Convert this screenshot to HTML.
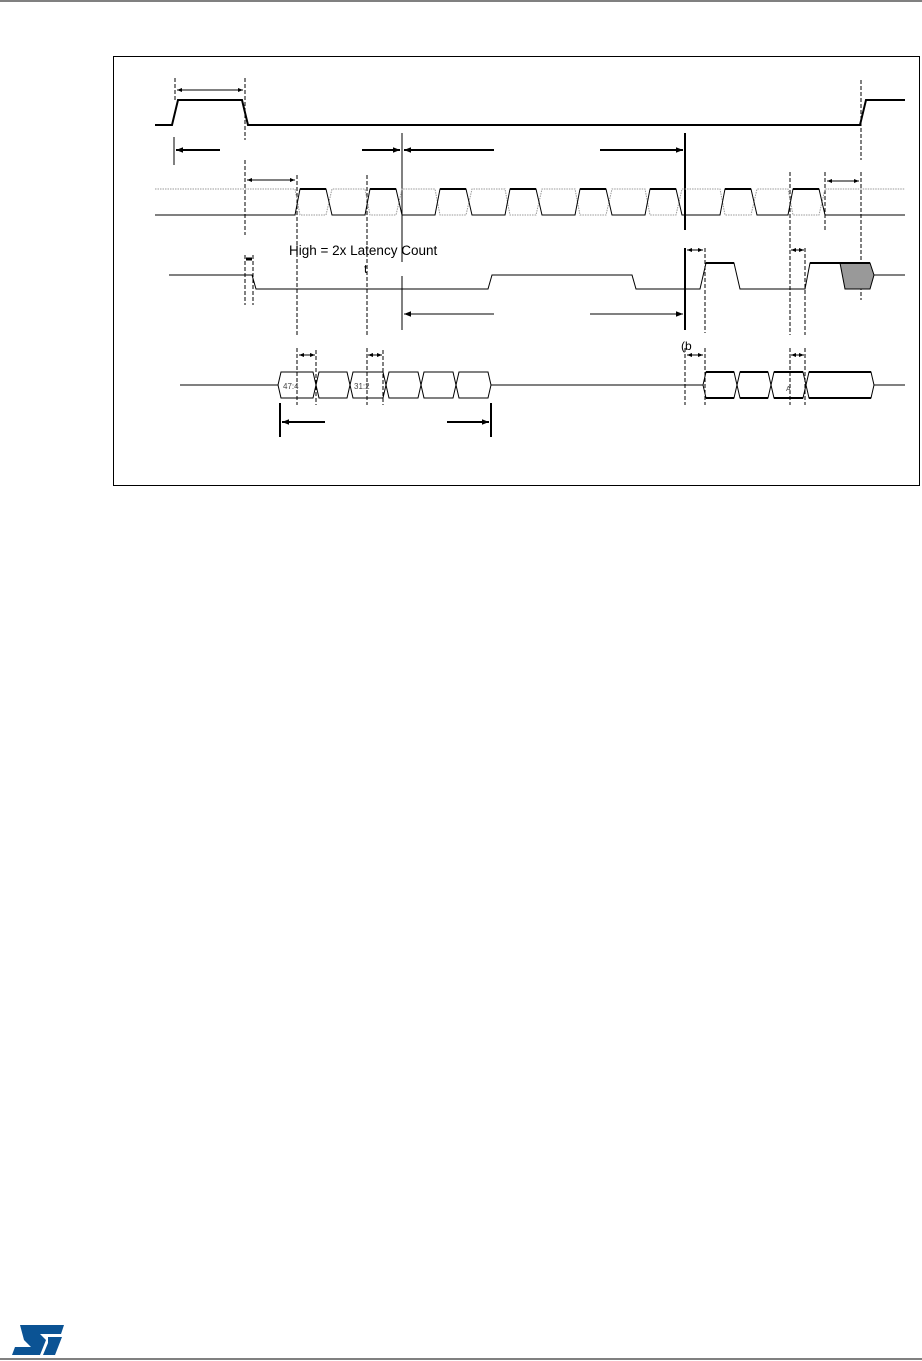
<!DOCTYPE html>
<html><head><style>html,body{margin:0;padding:0;background:#fff;width:922px;height:1361px;overflow:hidden}</style></head>
<body>
<svg width="922" height="1361" viewBox="0 0 922 1361" xmlns="http://www.w3.org/2000/svg" font-family="Liberation Sans, sans-serif">
<defs>
<marker id="a" viewBox="0 0 10 10" refX="10" refY="5" markerWidth="9" markerHeight="7" markerUnits="userSpaceOnUse" orient="auto-start-reverse"><path d="M0,1 L10,5 L0,9z" fill="#000"/></marker>
<marker id="s" viewBox="0 0 10 10" refX="10" refY="5" markerWidth="5" markerHeight="5" markerUnits="userSpaceOnUse" orient="auto-start-reverse"><path d="M0,1 L10,5 L0,9z" fill="#000"/></marker>
</defs>
<line x1="0" y1="1" x2="922" y2="1" stroke="#000" stroke-width="1"/>
<line x1="0" y1="1359" x2="922" y2="1359" stroke="#000" stroke-width="1"/>
<rect x="113.5" y="56.5" width="806" height="429" fill="none" stroke="#000" stroke-width="1"/>

<g stroke="#000" stroke-width="1" stroke-dasharray="4,2" fill="none">
<line x1="175" y1="78" x2="175" y2="100"/>
<line x1="245" y1="78" x2="245" y2="140"/>
<line x1="245" y1="160" x2="245" y2="235"/>
<line x1="245" y1="255" x2="245" y2="305"/>
<line x1="253" y1="255" x2="253" y2="305"/>
<line x1="297" y1="175" x2="297" y2="335"/>
<line x1="297" y1="348" x2="297" y2="405"/>
<line x1="316" y1="350" x2="316" y2="405"/>
<line x1="367" y1="175" x2="367" y2="335"/>
<line x1="367" y1="348" x2="367" y2="405"/>
<line x1="383" y1="350" x2="383" y2="405"/>
<line x1="790" y1="172" x2="790" y2="335"/>
<line x1="805" y1="248" x2="805" y2="335"/>
<line x1="790" y1="348" x2="790" y2="405"/>
<line x1="805" y1="348" x2="805" y2="405"/>
<line x1="825" y1="172" x2="825" y2="230"/>
<line x1="861" y1="80" x2="861" y2="160"/>
<line x1="861" y1="172" x2="861" y2="300"/>
<line x1="705" y1="248" x2="705" y2="333"/>
<line x1="705" y1="348" x2="705" y2="405"/>
<line x1="685" y1="348" x2="685" y2="405"/>
</g>

<polyline points="155,125 172,125 178,100 242,100 248,125 860,125 866,100 905,100" fill="none" stroke="#000" stroke-width="2"/>
<line x1="177" y1="90" x2="243" y2="90" stroke="#000" marker-start="url(#s)" marker-end="url(#s)"/>

<g stroke="#000" stroke-width="2">
<line x1="174" y1="137" x2="174" y2="165" stroke-width="1"/>
<line x1="220" y1="150" x2="176" y2="150" marker-end="url(#a)"/>
<line x1="362" y1="150" x2="400" y2="150" marker-end="url(#a)"/>
<line x1="402" y1="133" x2="402" y2="262" stroke-width="1"/>
<line x1="494" y1="150" x2="404" y2="150" marker-end="url(#a)"/>
<line x1="600" y1="150" x2="683" y2="150" marker-end="url(#a)"/>
<line x1="685" y1="133" x2="685" y2="230"/>
</g>

<g fill="none">
<polyline points="155,189 295,189 300,215 326,215 332,189 365,189 370,215 396,215 402,189 435,189 440,215 466,215 472,189 505,189 510,215 536,215 542,189 575,189 580,215 606,215 612,189 645,189 650,215 676,215 682,189 720,189 725,215 751,215 757,189 788,189 793,215 819,215 825,189 905,189" stroke="#999" stroke-width="1" stroke-dasharray="1.5,1"/>
<polyline points="155,215 295,215 300,189 326,189 332,215 365,215 370,189 396,189 402,215 435,215 440,189 466,189 472,215 505,215 510,189 536,189 542,215 575,215 580,189 606,189 612,215 645,215 650,189 676,189 682,215 720,215 725,189 751,189 757,215 788,215 793,189 819,189 825,215 905,215" stroke="#000" stroke-width="1"/>
<g stroke="#000" stroke-width="2">
<line x1="300" y1="189" x2="326" y2="189"/><line x1="370" y1="189" x2="396" y2="189"/><line x1="440" y1="189" x2="466" y2="189"/><line x1="510" y1="189" x2="536" y2="189"/><line x1="580" y1="189" x2="606" y2="189"/><line x1="650" y1="189" x2="676" y2="189"/><line x1="725" y1="189" x2="751" y2="189"/><line x1="793" y1="189" x2="819" y2="189"/>
</g>
</g>
<line x1="247" y1="180" x2="295" y2="180" stroke="#000" marker-start="url(#s)" marker-end="url(#s)"/>
<line x1="827" y1="181" x2="859" y2="181" stroke="#000" marker-start="url(#s)" marker-end="url(#s)"/>

<text x="289" y="255" font-size="13.5" fill="#000">High = 2x Latency Count</text>
<text x="364" y="273" font-size="12" fill="#000">t</text>

<polygon points="840,263 870,263 874,275 870,289 845,289" fill="#999" stroke="#000" stroke-width="1"/>
<polyline points="169,275 252,275 256,289 488,289 492,275 632,275 636,289 700,289 706,263 734,263 740,289 805,289 810,263 870,263" fill="none" stroke="#000" stroke-width="1"/>
<line x1="706" y1="263" x2="734" y2="263" stroke="#000" stroke-width="2"/>
<line x1="810" y1="263" x2="870" y2="263" stroke="#000" stroke-width="2"/>
<line x1="874" y1="275" x2="905" y2="275" stroke="#000"/>
<line x1="246" y1="259" x2="252" y2="259" stroke="#000" stroke-width="3"/>

<g stroke="#000">
<line x1="402" y1="276" x2="402" y2="330"/>
<line x1="494" y1="314" x2="404" y2="314" marker-end="url(#a)"/>
<line x1="590" y1="314" x2="683" y2="314" marker-end="url(#a)"/>
<line x1="685" y1="248" x2="685" y2="330" stroke-width="2"/>
<line x1="687" y1="250" x2="703" y2="250" marker-start="url(#s)" marker-end="url(#s)"/>
<line x1="791" y1="250" x2="804" y2="250" marker-start="url(#s)" marker-end="url(#s)"/>
</g>
<text x="681" y="350" font-size="12" fill="#000">(b</text>

<g fill="none" stroke="#000" stroke-width="1">
<line x1="180" y1="385" x2="278" y2="385"/>
<line x1="491" y1="385" x2="703" y2="385"/>
<line x1="874" y1="385" x2="905" y2="385"/>
<path d="M278,385 L281,372 L313,372 L316,385 L313,398 L281,398 Z"/>
<path d="M316,385 L319,372 L347,372 L350,385 L347,398 L319,398 Z"/>
<path d="M350,385 L353,372 L383,372 L386,385 L383,398 L353,398 Z"/>
<path d="M386,385 L389,372 L418,372 L421,385 L418,398 L389,398 Z"/>
<path d="M421,385 L424,372 L453,372 L456,385 L453,398 L424,398 Z"/>
<path d="M456,385 L459,372 L488,372 L491,385 L488,398 L459,398 Z"/>
<path d="M703,385 L706,372 L734,372 L737,385 L734,398 L706,398 Z"/>
<path d="M737,385 L740,372 L768,372 L771,385 L768,398 L740,398 Z"/>
<path d="M771,385 L774,372 L803,372 L806,385 L803,398 L774,398 Z"/>
<path d="M806,385 L809,372 L871,372 L874,385 L871,398 L809,398 Z"/>
</g>
<g stroke="#000" stroke-width="2" fill="none">
<line x1="706" y1="372" x2="734" y2="372"/><line x1="706" y1="398" x2="734" y2="398"/>
<line x1="740" y1="372" x2="768" y2="372"/><line x1="740" y1="398" x2="768" y2="398"/>
<line x1="774" y1="372" x2="803" y2="372"/><line x1="774" y1="398" x2="803" y2="398"/>
<line x1="809" y1="372" x2="871" y2="372"/><line x1="809" y1="398" x2="871" y2="398"/>
</g>
<text x="283" y="389" font-size="8" fill="#444">47:4</text>
<text x="354" y="389" font-size="8" fill="#444">31:2</text>
<text x="786" y="391" font-size="7" fill="#444">A</text>
<g stroke="#000">
<line x1="299" y1="355" x2="315" y2="355" marker-start="url(#s)" marker-end="url(#s)"/>
<line x1="368" y1="355" x2="382" y2="355" marker-start="url(#s)" marker-end="url(#s)"/>
<line x1="687" y1="355" x2="703" y2="355" marker-start="url(#s)" marker-end="url(#s)"/>
<line x1="791" y1="355" x2="804" y2="355" marker-start="url(#s)" marker-end="url(#s)"/>
</g>
<g stroke="#000" stroke-width="2">
<line x1="280" y1="403" x2="280" y2="437"/>
<line x1="325" y1="422" x2="282" y2="422" marker-end="url(#a)"/>
<line x1="447" y1="422" x2="489" y2="422" marker-end="url(#a)"/>
<line x1="491" y1="403" x2="491" y2="437"/>
</g>

<g fill="#0b5394">
<path d="M20,1325 L64,1325 L61,1334 L40,1334 L46,1340 L40,1355 L12,1355 L15,1347 L31,1347 L24,1340 Z"/>
<path d="M48,1337 L62,1337 L55,1355 L43,1355 L48,1343 Z"/>
</g>
</svg>
</body></html>
